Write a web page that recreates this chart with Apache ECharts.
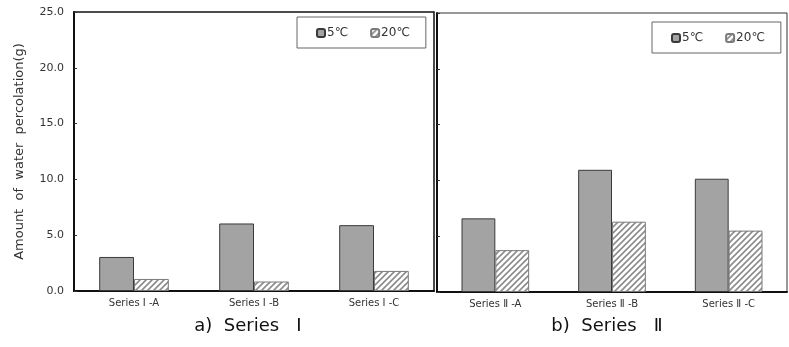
<!DOCTYPE html>
<html>
<head>
<meta charset="utf-8">
<script src="https://cdn.jsdelivr.net/npm/echarts@6/dist/echarts.min.js"></script>
<style>
  html, body { margin: 0; padding: 0; background: #fff; }
  #chart { width: 789px; height: 347px; }
</style>
</head>
<body>
<div id="chart"></div>
<script>
// Percolated water per specimen, grouped by curing temperature
const categoriesI = ['Series Ⅰ -A', 'Series Ⅰ -B', 'Series Ⅰ -C'];
const categoriesII = ['Series Ⅱ -A', 'Series Ⅱ -B', 'Series Ⅱ -C'];
const seriesI_5C = [3.05, 6.05, 5.9];
const seriesI_20C = [1.08, 0.85, 1.8];
const seriesII_5C = [6.6, 10.95, 10.15];
const seriesII_20C = [3.75, 6.3, 5.5];
const yTicks = [0, 5, 10, 15, 20, 25];
const panelTitles = ['a)  Series   Ⅰ', 'b)  Series   Ⅱ'];
const tempNames = ['5℃', '20℃'];
const yTitle = 'Amount  of  water  percolation(g)';

const FONT = '"DejaVu Sans", "Noto Sans CJK KR", sans-serif';

// diagonal hatch tile for the 20℃ bars
function hatchTile() {
  const s = 6;
  const c = document.createElement('canvas');
  c.width = s; c.height = s;
  const g = c.getContext('2d');
  g.fillStyle = '#ffffff';
  g.fillRect(0, 0, s, s);
  g.strokeStyle = '#8c8c8c';
  g.lineWidth = 1.6;
  g.beginPath();
  g.moveTo(-1, s + 1); g.lineTo(s + 1, -1);
  g.moveTo(-1, 1); g.lineTo(1, -1);
  g.moveTo(s - 1, s + 1); g.lineTo(s + 1, s - 1);
  g.stroke();
  return c;
}
const hatch = { image: hatchTile(), repeat: 'repeat' };

const solidStyle = { color: '#a3a3a3', borderColor: '#3a3a3a', borderWidth: 1 };
const hatchStyle = { color: hatch, borderColor: '#7a7a7a', borderWidth: 1 };

function xAxisFor(gridIndex, cats) {
  return {
    type: 'category', gridIndex, data: cats,
    axisLine: { lineStyle: { color: '#111', width: 2 } },
    axisTick: { inside: true, length: 4, lineStyle: { color: '#333' } },
    axisLabel: { color: '#333', fontSize: 10, fontFamily: FONT, margin: 7 }
  };
}
function yAxisFor(gridIndex, showLabels) {
  return {
    type: 'value', gridIndex, min: yTicks[0], max: yTicks[yTicks.length - 1], interval: 5,
    axisLine: { show: true, lineStyle: { color: '#111', width: 2 } },
    axisTick: { show: true, inside: true, length: 3, lineStyle: { color: '#333' } },
    splitLine: { show: false },
    axisLabel: {
      show: showLabels, color: '#333', fontSize: 11, fontFamily: FONT, margin: 10,
      formatter: v => v.toFixed(1)
    },
    name: showLabels ? yTitle : '',
    nameLocation: 'middle', nameRotate: 90, nameGap: 48,
    nameTextStyle: { color: '#333', fontSize: 13, fontFamily: FONT }
  };
}
function legendAt(pos) {
  return Object.assign({
    data: tempNames, orient: 'horizontal',
    itemWidth: 8, itemHeight: 8, itemGap: 22,
    borderColor: '#666', borderWidth: 1, padding: [10, 16, 9, 19],
    textStyle: { color: '#333', fontSize: 12, fontFamily: FONT, padding: [0, 0, 0, -3] },
    selectedMode: false
  }, pos);
}
function bar(name, xi, data, style) {
  return {
    type: 'bar', name, xAxisIndex: xi, yAxisIndex: xi, data,
    barCategoryGap: '42%', barGap: '0%', itemStyle: style,
    emphasis: { disabled: true }
  };
}

const chart = echarts.init(document.getElementById('chart'), null, { renderer: 'canvas' });
chart.setOption({
  animation: false,
  backgroundColor: '#fff',
  grid: [
    { left: 74, top: 12, width: 360, height: 279, show: true, borderColor: '#111', borderWidth: 1.5, backgroundColor: 'transparent' },
    { left: 437, top: 13, width: 350, height: 279, show: true, borderColor: '#333', borderWidth: 1, backgroundColor: 'transparent' }
  ],
  title: [
    { text: panelTitles[0], left: 243, top: 312, textAlign: 'center',
      textStyle: { fontSize: 18, fontWeight: 'normal', color: '#111', fontFamily: FONT } },
    { text: panelTitles[1], left: 602, top: 312, textAlign: 'center',
      textStyle: { fontSize: 18, fontWeight: 'normal', color: '#111', fontFamily: FONT } }
  ],
  legend: [
    legendAt({ left: 297, top: 17 }),
    legendAt({ left: 652, top: 22 })
  ],
  xAxis: [xAxisFor(0, categoriesI), xAxisFor(1, categoriesII)],
  yAxis: [yAxisFor(0, true), yAxisFor(1, false)],
  series: [
    bar(tempNames[0], 0, seriesI_5C, solidStyle),
    bar(tempNames[1], 0, seriesI_20C, hatchStyle),
    bar(tempNames[0], 1, seriesII_5C, solidStyle),
    bar(tempNames[1], 1, seriesII_20C, hatchStyle)
  ]
});
</script>
</body>
</html>
